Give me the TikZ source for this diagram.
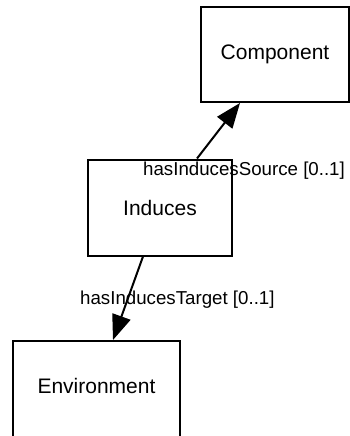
\documentclass[tikz,border=0pt]{standalone}
\usepackage{fontspec}
\setmainfont{Liberation Sans}
\usetikzlibrary{arrows.meta}
\begin{document}
\begin{tikzpicture}[x=1pt,y=-1pt,
  box/.style={draw,line width=2pt,minimum width=#1,inner sep=0pt,font=\fontsize{21}{24}\selectfont},
  rel/.style={line width=2pt,-{Triangle[length=25pt,width=19pt]}},
  lab/.style={anchor=base west,inner sep=0pt,font=\fontsize{18.7}{22}\selectfont}]
\clip (0,0) rectangle (350,436);
\fill[white] (0,0) rectangle (350,436);
\node[box=148pt,minimum height=95pt] (comp) at (275,54.5) {Component};
\node[box=144pt,minimum height=96pt] (ind) at (160,207.5) {Induces};
\node[box=167pt,minimum height=99pt,text height=15pt,text depth=9pt] (env) at (96.5,390.5) {Environment};
\draw[rel] ([xshift=37pt]ind.north) -- ([xshift=-35pt]comp.south);
\draw[rel] ([xshift=-17pt]ind.south) -- ([xshift=16.5pt]env.north);
\node[lab] (l1) at (143,175) {hasInducesSource [0..1]};
\node[lab] (l2) at (80,304) {hasInducesTarget [0..1]};
\end{tikzpicture}
\end{document}
